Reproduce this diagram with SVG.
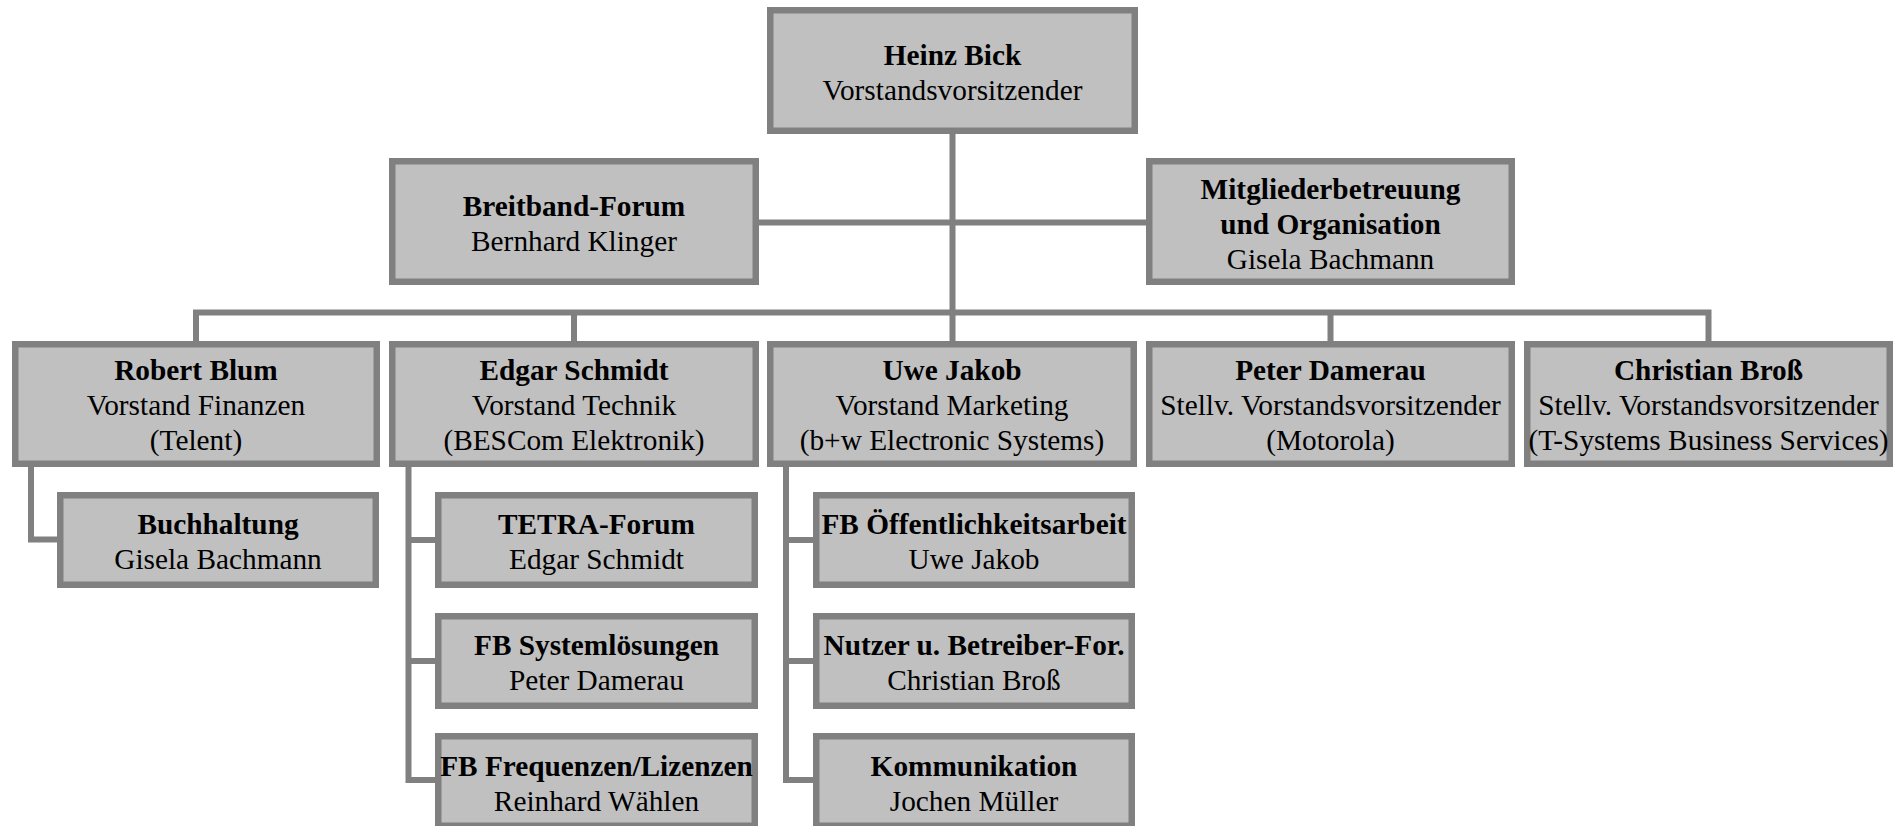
<svg xmlns="http://www.w3.org/2000/svg" width="1903" height="826" viewBox="0 0 1903 826">
<style>
.box{fill:#c0c0c0;stroke:#808080;stroke-width:6.5}
.con{fill:none;stroke:#808080;stroke-width:6}
text{font-family:"Liberation Serif","Times New Roman",serif;font-size:29.3px;fill:#000;text-anchor:middle}
.b{font-weight:bold}
</style>
<rect width="1903" height="826" fill="#fff"/>
<g id="connectors">
<path class="con" d="M952.5 134V341"/>
<path class="con" d="M759 222.5H1146"/>
<path class="con" d="M196 341V312.5H1708.5V341"/>
<path class="con" d="M574 312.5V341M1330.5 312.5V341"/>
<path class="con" d="M31 467V539.5H57"/>
<path class="con" d="M408.5 467V780H435M408.5 540H435M408.5 661H435"/>
<path class="con" d="M786 467V780H813M786 540H813M786 661H813"/>
</g>
<g id="heinz"><rect class="box" x="770.25" y="10.25" width="364.5" height="120.5"/><text x="952.5" y="65" class="b">Heinz Bick</text><text x="952.5" y="100">Vorstandsvorsitzender</text></g>
<g id="breitband"><rect class="box" x="392.25" y="161.25" width="363.5" height="120.5"/><text x="574" y="216" class="b">Breitband-Forum</text><text x="574" y="251">Bernhard Klinger</text></g>
<g id="mitglieder"><rect class="box" x="1149.25" y="161.25" width="362.5" height="120.5"/><text x="1330.5" y="199" class="b">Mitgliederbetreuung</text><text x="1330.5" y="234" class="b">und Organisation</text><text x="1330.5" y="269">Gisela Bachmann</text></g>
<g id="blum"><rect class="box" x="15.25" y="344.25" width="361.5" height="119.5"/><text x="196" y="380" class="b">Robert Blum</text><text x="196" y="415">Vorstand Finanzen</text><text x="196" y="450">(Telent)</text></g>
<g id="schmidt"><rect class="box" x="392.25" y="344.25" width="363.5" height="119.5"/><text x="574" y="380" class="b">Edgar Schmidt</text><text x="574" y="415">Vorstand Technik</text><text x="574" y="450">(BESCom Elektronik)</text></g>
<g id="jakob"><rect class="box" x="770.25" y="344.25" width="363.5" height="119.5"/><text x="952" y="380" class="b">Uwe Jakob</text><text x="952" y="415">Vorstand Marketing</text><text x="952" y="450">(b+w Electronic Systems)</text></g>
<g id="damerau"><rect class="box" x="1149.25" y="344.25" width="362.5" height="119.5"/><text x="1330.5" y="380" class="b">Peter Damerau</text><text x="1330.5" y="415">Stellv. Vorstandsvorsitzender</text><text x="1330.5" y="450">(Motorola)</text></g>
<g id="bross"><rect class="box" x="1527.25" y="344.25" width="362.5" height="119.5"/><text x="1708.5" y="380" class="b">Christian Broß</text><text x="1708.5" y="415">Stellv. Vorstandsvorsitzender</text><text x="1708.5" y="450">(T-Systems Business Services)</text></g>
<g id="buchhaltung"><rect class="box" x="60.25" y="495.25" width="315.5" height="89.5"/><text x="218" y="534" class="b">Buchhaltung</text><text x="218" y="569">Gisela Bachmann</text></g>
<g id="tetra"><rect class="box" x="438.25" y="495.25" width="316.5" height="89.5"/><text x="596.5" y="534" class="b">TETRA-Forum</text><text x="596.5" y="569">Edgar Schmidt</text></g>
<g id="fbsys"><rect class="box" x="438.25" y="616.25" width="316.5" height="89.5"/><text x="596.5" y="655" class="b">FB Systemlösungen</text><text x="596.5" y="690">Peter Damerau</text></g>
<g id="fbfreq"><rect class="box" x="438.25" y="736.25" width="316.5" height="89.5"/><text x="596.5" y="776" class="b">FB Frequenzen/Lizenzen</text><text x="596.5" y="811">Reinhard Wählen</text></g>
<g id="oeff"><rect class="box" x="816.25" y="495.25" width="315.5" height="89.5"/><text x="974" y="534" class="b">FB Öffentlichkeitsarbeit</text><text x="974" y="569">Uwe Jakob</text></g>
<g id="nutzer"><rect class="box" x="816.25" y="616.25" width="315.5" height="89.5"/><text x="974" y="655" class="b">Nutzer u. Betreiber-For.</text><text x="974" y="690">Christian Broß</text></g>
<g id="komm"><rect class="box" x="816.25" y="736.25" width="315.5" height="89.5"/><text x="974" y="776" class="b">Kommunikation</text><text x="974" y="811">Jochen Müller</text></g>
</svg>
